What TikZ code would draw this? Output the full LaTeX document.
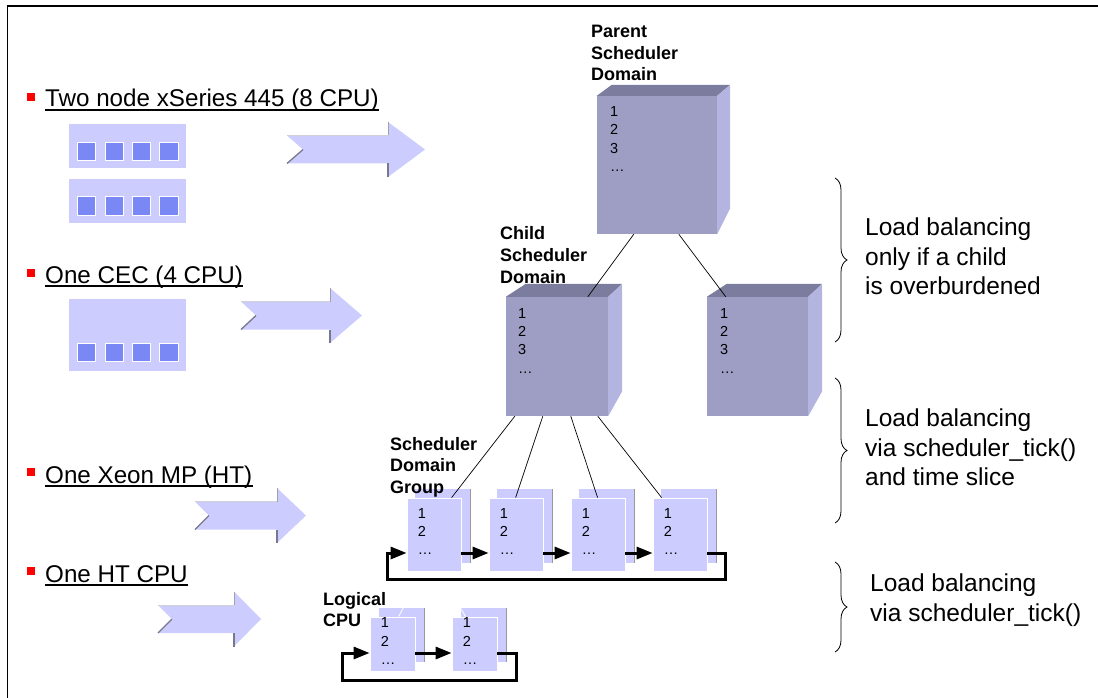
\documentclass[tikz,border=0pt]{standalone}
\usepackage{fontspec}
\setmainfont{Liberation Sans}
\usetikzlibrary{arrows.meta,decorations.pathreplacing}
\definecolor{lav}{RGB}{204,204,255}
\definecolor{cpusq}{RGB}{122,136,245}
\definecolor{cubefront}{RGB}{158,158,197}
\definecolor{cubetop}{RGB}{124,124,158}
\definecolor{cubeside}{RGB}{180,180,224}
\definecolor{bevel}{RGB}{120,120,140}
\newcommand\fbul{\fontsize{24.2}{29}\selectfont}
\newcommand\fbal{\fontsize{24.5}{29.5}\selectfont}
\newcommand\flab{\fontsize{18}{21.7}\selectfont\bfseries}
\newcommand\fnum{\fontsize{14.5}{18.3}\selectfont}
\newcommand\chevarrow[5]{%
  \fill[lav] (#1,#4-14) -- (#2,#4-14) -- (#2,#4-27.5) -- (#3,#4) -- (#2,#4+27.5) -- (#2,#4+14) -- (#1,#4+14) -- (#1+#5,#4) -- cycle;
  \draw[bevel, line width=1.3pt] (#1+#5,#4) -- (#1,#4+14);
  \draw[bevel, line width=1.3pt] (#2,#4+14) -- (#2,#4+27.5);
  \draw[bevel!70, line width=1pt] (#2,#4-14) -- (#2,#4-27.5);
  \draw[bevel!35, line width=0.8pt] (#1,#4-14) -- (#2,#4-14);
}
\newcommand\cubefaces[5]{%
  \fill[cubetop] (#1.north west) -- ([xshift=#2pt,yshift=#4pt]#1.north west) -- ([xshift=#3pt,yshift=#4pt]#1.north east) -- (#1.north east) -- cycle;
  \fill[cubeside] (#1.north east) -- ([xshift=#3pt,yshift=#4pt]#1.north east) -- ([xshift=#3pt,yshift=#5pt]#1.south east) -- (#1.south east) -- cycle;
}
\begin{document}
\begin{tikzpicture}[x=1pt,y=-1pt,
  bullettext/.style={font=\fbul, anchor=base west, inner sep=0},
  bulletsq/.style={fill=red, minimum size=8, inner sep=0},
  cpubox/.style={fill=lav, draw=none, inner sep=0, minimum width=117},
  cpusquare/.style={fill=cpusq, draw=white, line width=0.7pt, minimum size=18.3, inner sep=0},
  cubeface/.style={fill=cubefront, draw=none, inner sep=0},
  numtext/.style={font=\fnum, align=left, anchor=north west, inner sep=0},
  boldlabel/.style={font=\flab, align=left, anchor=north west, inner sep=0},
  baltext/.style={font=\fbal, align=left, anchor=north west, inner sep=0},
  pageback/.style={fill=lav, draw=none, inner sep=0},
  pagefront/.style={fill=lav, draw=white, line width=0.8pt, inner sep=0},
  conn/.style={black, line width=0.7pt},
  flow/.style={black, line width=3pt, -{Triangle[length=16pt,width=12pt]}},
  bracestyle/.style={decorate, decoration={brace, amplitude=12pt}, line width=0.8pt}
]
\useasboundingbox (0,0) rectangle (1098,698);
% frame
\draw[line width=1.5pt] (7.5,698) -- (7.5,6) -- (1098,6);

% bullets and headings
\node[bulletsq] (b1) at (31,97) {};
\node[bullettext] (h1) at (45,107) {Two node xSeries 445 (8 CPU)};
\node[bulletsq] (b2) at (31,273) {};
\node[bullettext] (h2) at (45,283) {One CEC (4 CPU)};
\node[bulletsq] (b3) at (31,472) {};
\node[bullettext] (h3) at (45,483) {One Xeon MP (HT)};
\node[bulletsq] (b4) at (31,571) {};
\node[bullettext] (h4) at (45,582) {One HT CPU};
\foreach \h in {h1,h2,h3,h4}{
  \draw[line width=1.5pt] ([yshift=-3pt]\h.base west) -- ([yshift=-3pt]\h.base east);
}

% CPU boxes
\node[cpubox, minimum height=44] (box1) at (127.5,146) {};
\node[cpubox, minimum height=44] (box2) at (127.5,201) {};
\node[cpubox, minimum height=72] (box3) at (127.5,335) {};
\foreach \i/\x in {1/86.5,2/114.2,3/141.5,4/168.8}{
  \node[cpusquare] (sqa\i) at (\x,151.2) {};
  \node[cpusquare] (sqb\i) at (\x,205.8) {};
  \node[cpusquare] (sqc\i) at (\x,352.5) {};
}

% chevron arrows
\chevarrow{287}{388}{425}{149.5}{16}
\chevarrow{241}{330}{362}{315.5}{15}
\chevarrow{195}{277}{306}{515.5}{14}
\chevarrow{158}{234}{261}{619}{14}

% cubes
\node[cubeface, minimum width=120, minimum height=138] (parent) at (657,165) {};
\cubefaces{parent}{15}{13}{11}{26}
\node[cubeface, minimum width=102, minimum height=119] (child) at (557,356.5) {};
\cubefaces{child}{20}{14}{13}{25}
\node[cubeface, minimum width=101, minimum height=119] (rcube) at (757.5,356.5) {};
\cubefaces{rcube}{20}{14}{13}{25}
\node[numtext] (pnum) at (610,106.5) {1\\2\\3\\…};
\node[numtext] (cnum) at (518,308) {1\\2\\3\\…};
\node[numtext] (rnum) at (720,308) {1\\2\\3\\…};

% scheduler domain group pages
\foreach \i/\x in {1/434,2/516,3/598,4/680}{
  \node[pageback, minimum width=55, minimum height=74] (gb\i) at (\x+8.5,526) {};
  \draw[gray!80, line width=0.6pt] (gb\i.north east) -- (gb\i.south east);
  \node[pagefront, minimum width=54, minimum height=73] (g\i) at (\x,534.5) {};
  \node[numtext, font=\fontsize{14.5}{18}\selectfont] (gn\i) at ([xshift=11pt,yshift=-10.5pt]g\i.north west) {1\\2\\…};
}
% logical CPU pages
\foreach \i/\x in {1/392.5,2/474.5}{
  \node[pageback, minimum width=46, minimum height=54] (lb\i) at (\x+9,635) {};
  \draw[gray!80, line width=0.6pt] (lb\i.north east) -- (lb\i.south east);
  \node[pagefront, minimum width=45, minimum height=54] (l\i) at (\x,644) {};
  \node[numtext, font=\fontsize{14.5}{18.5}\selectfont] (ln\i) at ([xshift=11pt,yshift=-1pt]l\i.north west) {1\\2\\…};
}
\draw[white, line width=0.8pt] ([xshift=25pt]lb1.north west) -- ([xshift=29pt]l1.north west);
\draw[white, line width=0.8pt] ([xshift=0pt]lb2.north west) -- ([xshift=14pt]l2.north west);

% labels
\node[boldlabel] (plab) at (591,25) {Parent\\Scheduler\\Domain};
\node[boldlabel] (clab) at (500,226.5) {Child\\Scheduler\\Domain};
\node[boldlabel] (glab) at (390,437) {Scheduler\\Domain\\Group};
\node[boldlabel] (llab) at (323,592) {Logical\\CPU};

% tree connectors
\draw[conn] ([xshift=37pt]parent.south west) -- ([xshift=82pt]child.north west);
\draw[conn] ([xshift=82pt]parent.south west) -- ([xshift=19pt]rcube.north west);
\draw[conn] ([xshift=9pt]child.south west) -- ([xshift=45pt]g1.north west);
\draw[conn] ([xshift=37pt]child.south west) -- ([xshift=27pt]g2.north west);
\draw[conn] ([xshift=65pt]child.south west) -- ([xshift=27pt]g3.north west);
\draw[conn] ([xshift=92pt]child.south west) -- ([xshift=9pt]g4.north west);

% group flow arrows
\draw[flow] ([yshift=-18.5pt]g1.east) -- ([yshift=-18.5pt]g2.west);
\draw[flow] ([yshift=-18.5pt]g2.east) -- ([yshift=-18.5pt]g3.west);
\draw[flow] ([yshift=-18.5pt]g3.east) -- ([yshift=-18.5pt]g4.west);
\coordinate (glr) at (725,579);
\coordinate (gll) at (387,579);
\draw[flow] ([yshift=-18.5pt]g4.east) -| (glr) -- (gll) |- ([yshift=-18.5pt]g1.west);
% logical flow arrows
\draw[flow] ([yshift=-9pt]l1.east) -- ([yshift=-9pt]l2.west);
\coordinate (llr) at (516,680);
\coordinate (lll) at (342,680);
\draw[flow] ([yshift=-9pt]l2.east) -| (llr) -- (lll) |- ([yshift=-9pt]l1.west);

% braces
\coordinate (br1t) at (835,178);
\coordinate (br1b) at (835,342);
\coordinate (br2t) at (835,378);
\coordinate (br2b) at (835,523);
\coordinate (br3t) at (835,562);
\coordinate (br3b) at (835,652);
\draw[bracestyle] (br1t) -- (br1b);
\draw[bracestyle] (br2t) -- (br2b);
\draw[bracestyle] (br3t) -- (br3b);
\node[baltext] (bal1) at (865,218) {Load balancing\\only if a child\\is overburdened};
\node[baltext] (bal2) at (865,409) {Load balancing\\via scheduler\_tick()\\and time slice};
\node[baltext] (bal3) at (870,574) {Load balancing\\via scheduler\_tick()};
\end{tikzpicture}
\end{document}
